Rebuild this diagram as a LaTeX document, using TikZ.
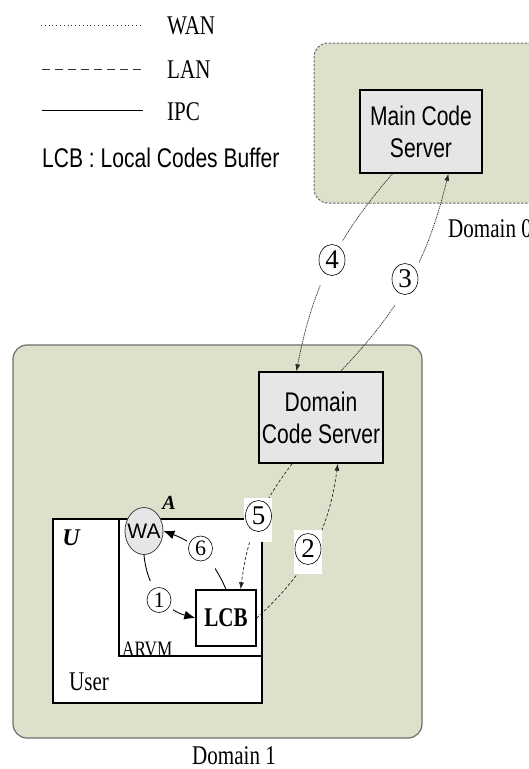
\documentclass[tikz,border=0pt]{standalone}
\usepackage{fontspec}
\setmainfont[FakeStretch=0.78]{Liberation Serif}
\setsansfont[FakeStretch=0.78]{Liberation Sans}
\newfontfamily\plainsans{Liberation Sans}
\newfontfamily\plainserif{Liberation Serif}
\usetikzlibrary{shapes.geometric,arrows.meta}
\definecolor{domgreen}{HTML}{DDE1CB}
\definecolor{boxgray}{HTML}{E6E6E6}
\definecolor{bordergray}{HTML}{6E6E6E}
\begin{document}
\begin{tikzpicture}[x=1pt,y=-1pt,
  font=\fontsize{27}{32}\selectfont,
  domainbox/.style={rectangle, rounded corners=14pt, fill=domgreen, draw=bordergray, line width=1.2pt, inner sep=0},
  server/.style={rectangle, fill=boxgray, draw=black, line width=1.4pt, align=center, inner sep=0, font=\sffamily\fontsize{27}{32}\selectfont},
  plainbox/.style={rectangle, fill=white, draw=black, line width=1.4pt, inner sep=0},
  numbg/.style={rectangle, fill=white, minimum width=28pt, minimum height=44pt, inner sep=0},
  numbig/.style={ellipse, draw=black, line width=0.6pt, fill=white, minimum width=26pt, minimum height=31pt, inner sep=0, font=\plainserif\fontsize{27}{27}\selectfont},
  numsmall/.style={ellipse, draw=black, line width=0.6pt, fill=white, minimum width=24pt, minimum height=25pt, inner sep=0, font=\plainserif\fontsize{22}{22}\selectfont},
  wan/.style={draw=black!85, line width=0.7pt, dash pattern=on 1.2pt off 0.8pt},
  lan/.style={draw=black!85, line width=0.7pt, dash pattern=on 3pt off 2pt},
  ipc/.style={draw=black, line width=0.9pt},
  smalltip/.style={-{Latex[length=7pt,width=5pt]}},
  bigtip/.style={-{Latex[length=11pt,width=9pt]}},
  legtext/.style={anchor=base west, inner sep=0},
]
\useasboundingbox (0,0) rectangle (529,769);

% legend
\coordinate (w1) at (41,25); \coordinate (w2) at (143,25);
\coordinate (l1) at (42,69); \coordinate (l2) at (143,69);
\coordinate (i1) at (42,110); \coordinate (i2) at (143,110);
\draw[black!80, line width=0.8pt, dash pattern=on 0.8pt off 3pt] (w1) -- (w2);
\draw[black!80, line width=0.9pt, dash pattern=on 8pt off 5pt] (l1) -- (l2);
\draw[black, line width=1pt] (i1) -- (i2);
\node[legtext] (wanlab) at (167,34) {WAN};
\node[legtext] (lanlab) at (167,78) {LAN};
\node[legtext] (ipclab) at (167,120) {IPC};
\node[legtext, font=\sffamily\fontsize{27}{32}\selectfont] (lcblegend) at (42,167) {LCB : Local Codes Buffer};

% domain 0
\node[domainbox, draw=bordergray, line width=1pt, dash pattern=on 2.5pt off 1.5pt, minimum width=231pt, minimum height=160pt] (d0) at (429.5,123) {};
\node[server, minimum width=122pt, minimum height=83pt] (mcs) at (421,131.5) {Main Code\\Server};
\node[legtext] (d0lab) at (448,237) {Domain 0};

% domain 1
\node[domainbox, minimum width=409pt, minimum height=393pt] (d1) at (217.5,541.5) {};
\node[server, minimum width=124pt, minimum height=91pt] (dcs) at (321,417.5) {Domain\\Code Server};
\node[plainbox, minimum width=209pt, minimum height=184pt] (user) at (157.5,611) {};
\node[plainbox, minimum width=143pt, minimum height=137pt] (arvm) at (190.5,587.5) {};
\node[plainbox, minimum width=60pt, minimum height=56pt, font=\bfseries\fontsize{27}{32}\selectfont] (lcb) at (226,618) {LCB};
\node[ellipse, draw=black!75, fill=boxgray, line width=0.8pt, minimum width=38pt, minimum height=47pt, inner sep=0, font=\plainsans\fontsize{21}{21}\selectfont] (wa) at (144,531) {\makebox[0pt]{WA}};
\node[font=\plainserif\bfseries\itshape\fontsize{20}{20}\selectfont, inner sep=0] (alab) at (169,503) {A};
\node[font=\plainserif\bfseries\itshape\fontsize{24}{24}\selectfont, inner sep=0] (ulab) at (71,538) {U};
\node[legtext, font=\fontsize{22}{22}\selectfont] (arvmlab) at (122,656) {ARVM};
\node[legtext] (userlab) at (69,690) {User};
\node[legtext] (d1lab) at (192,764) {Domain 1};

% connectors
\draw[wan, smalltip] (mcs.236) to[bend right=15] (dcs.118);
\draw[wan, smalltip] (dcs.67) to[bend right=15] (mcs.303);
\draw[lan, smalltip] (dcs.238) to[bend right=15] (lcb.63);
\draw[lan, smalltip] (lcb.east) to[bend right=20] (dcs.290);
\draw[ipc, bigtip] (wa.south) to[out=-85, in=165] (lcb.west);
\draw[ipc, bigtip] (lcb.north) to[out=113, in=-20] (wa.east);

% step labels
\node[numbg] (b4) at (332,263) {};
\node[numbig] (n4) at (332,260) {4};
\node[numbg] (b3) at (405,283) {};
\node[numbig] (n3) at (405,279) {3};
\node[numbg] (b5) at (258,520) {};
\node[numbig] (n5) at (258.5,516) {5};
\node[numbg] (b2) at (308,551.5) {};
\node[numbig] (n2) at (308,549) {2};
\node[numbg, minimum height=40pt] (b1) at (159,601) {};
\node[numsmall] (n1) at (159,600) {1};
\node[numbg, minimum height=40pt] (b6) at (200.5,550) {};
\node[numsmall] (n6) at (200.5,548.5) {6};
\end{tikzpicture}
\end{document}
